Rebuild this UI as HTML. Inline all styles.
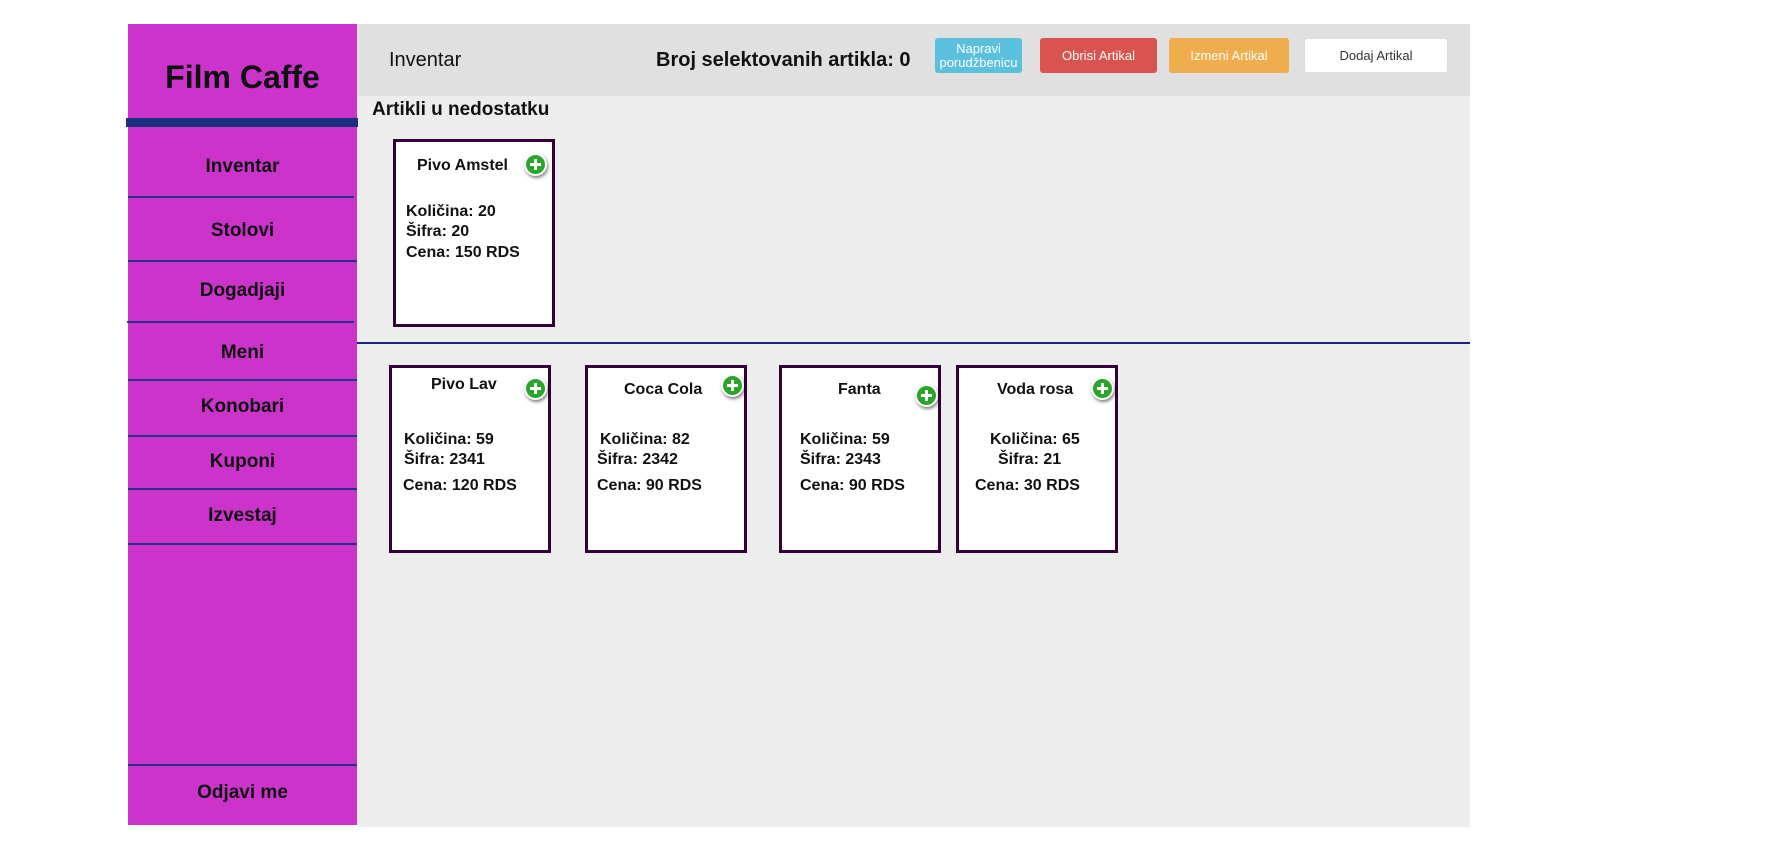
<!DOCTYPE html>
<html><head><meta charset="utf-8"><style>
*{margin:0;padding:0;box-sizing:border-box}
body{width:1790px;height:857px;background:#fff;position:relative;overflow:hidden;font-family:"Liberation Sans",Arial,sans-serif;color:#111}
.a{position:absolute}
#side{left:128px;top:24px;width:229px;height:801px;background:#cb33cb}
#hdr{left:357px;top:24px;width:1113px;height:72px;background:#e0e0e0}
#main{left:357px;top:96px;width:1113px;height:731px;background:#ededed}
.nav{position:absolute;left:128px;width:229px;text-align:center;font-weight:bold;font-size:19px;line-height:24px;color:#111}
.ln{position:absolute;height:2px;background:#24308a}
.card{position:absolute;border:3px solid #33003a;background:#fff;width:162px;height:188px}
.t{position:absolute;font-size:16px;font-weight:bold;line-height:18px;white-space:nowrap}
.plus{position:absolute;width:23px;height:23px;border-radius:50%;background:#2aa52a;border:2px solid #fff;box-shadow:1px 2px 3px rgba(0,0,0,.5)}
.plus:before{content:"";position:absolute;left:4px;top:8px;width:11px;height:3px;background:#fff}
.plus:after{content:"";position:absolute;left:8px;top:4px;width:3px;height:11px;background:#fff}
.btn{position:absolute;top:38px;height:35px;border-radius:3px;color:#fff;font-size:13px;text-align:center;display:flex;align-items:center;justify-content:center;line-height:14px}
</style></head><body>
<div class="a" id="side"></div>
<div class="a" id="hdr"></div>
<div class="a" id="main"></div>
<div class="a" style="left:128px;top:58px;width:229px;text-align:center;font-size:32px;font-weight:bold;line-height:38px">Film Caffe</div>
<div class="a" style="left:126px;top:118px;width:232px;height:9px;background:#1c3080"></div>
<div class="nav" style="top:155px">Inventar</div>
<div class="ln" style="left:128px;top:196px;width:226px"></div>
<div class="nav" style="top:219px">Stolovi</div>
<div class="ln" style="left:128px;top:260px;width:229px"></div>
<div class="nav" style="top:279px">Dogadjaji</div>
<div class="ln" style="left:127px;top:321px;width:227px"></div>
<div class="nav" style="top:341px">Meni</div>
<div class="ln" style="left:128px;top:379px;width:229px"></div>
<div class="nav" style="top:395px">Konobari</div>
<div class="ln" style="left:128px;top:435px;width:229px"></div>
<div class="nav" style="top:450px">Kuponi</div>
<div class="ln" style="left:128px;top:488px;width:229px"></div>
<div class="nav" style="top:504px">Izvestaj</div>
<div class="ln" style="left:128px;top:543px;width:229px"></div>
<div class="ln" style="left:128px;top:764px;width:229px"></div>
<div class="nav" style="top:781px">Odjavi me</div>

<div class="a" style="left:389px;top:48px;font-size:20px;line-height:24px">Inventar</div>
<div class="a" style="left:656px;top:48px;font-size:20px;font-weight:bold;line-height:24px">Broj selektovanih artikla: 0</div>
<div class="btn" style="left:935px;width:87px;background:#5bc0de">Napravi<br>porudžbenicu</div>
<div class="btn" style="left:1040px;width:117px;background:#d9534f">Obrisi Artikal</div>
<div class="btn" style="left:1169px;width:120px;background:#f0ad4e">Izmeni Artikal</div>
<div class="btn" style="left:1304px;width:144px;background:#fff;color:#333;border:1px solid #ddd">Dodaj Artikal</div>

<div class="a" style="left:372px;top:99px;font-size:19px;font-weight:bold;line-height:22px">Artikli u nedostatku</div>

<div class="card" style="left:393px;top:139px"></div>
<div class="t" style="left:417px;top:157px">Pivo Amstel</div>
<div class="plus" style="left:524px;top:153px"></div>
<div class="t" style="left:406px;top:203px">Količina: 20</div>
<div class="t" style="left:406px;top:223px">Šifra: 20</div>
<div class="t" style="left:406px;top:244px">Cena: 150 RDS</div>

<div class="a" style="left:357px;top:342px;width:1113px;height:2px;background:#1a237e"></div>

<div class="card" style="left:389px;top:365px"></div>
<div class="t" style="left:431px;top:376px">Pivo Lav</div>
<div class="plus" style="left:524px;top:377px"></div>
<div class="t" style="left:404px;top:431px">Količina: 59</div>
<div class="t" style="left:404px;top:451px">Šifra: 2341</div>
<div class="t" style="left:403px;top:477px">Cena: 120 RDS</div>

<div class="card" style="left:585px;top:365px"></div>
<div class="t" style="left:624px;top:381px">Coca Cola</div>
<div class="plus" style="left:721px;top:374px"></div>
<div class="t" style="left:600px;top:431px">Količina: 82</div>
<div class="t" style="left:597px;top:451px">Šifra: 2342</div>
<div class="t" style="left:597px;top:477px">Cena: 90 RDS</div>

<div class="card" style="left:779px;top:365px"></div>
<div class="t" style="left:838px;top:381px">Fanta</div>
<div class="plus" style="left:915px;top:384px"></div>
<div class="t" style="left:800px;top:431px">Količina: 59</div>
<div class="t" style="left:800px;top:451px">Šifra: 2343</div>
<div class="t" style="left:800px;top:477px">Cena: 90 RDS</div>

<div class="card" style="left:956px;top:365px"></div>
<div class="t" style="left:997px;top:381px">Voda rosa</div>
<div class="plus" style="left:1091px;top:377px"></div>
<div class="t" style="left:990px;top:431px">Količina: 65</div>
<div class="t" style="left:998px;top:451px">Šifra: 21</div>
<div class="t" style="left:975px;top:477px">Cena: 30 RDS</div>
</body></html>
